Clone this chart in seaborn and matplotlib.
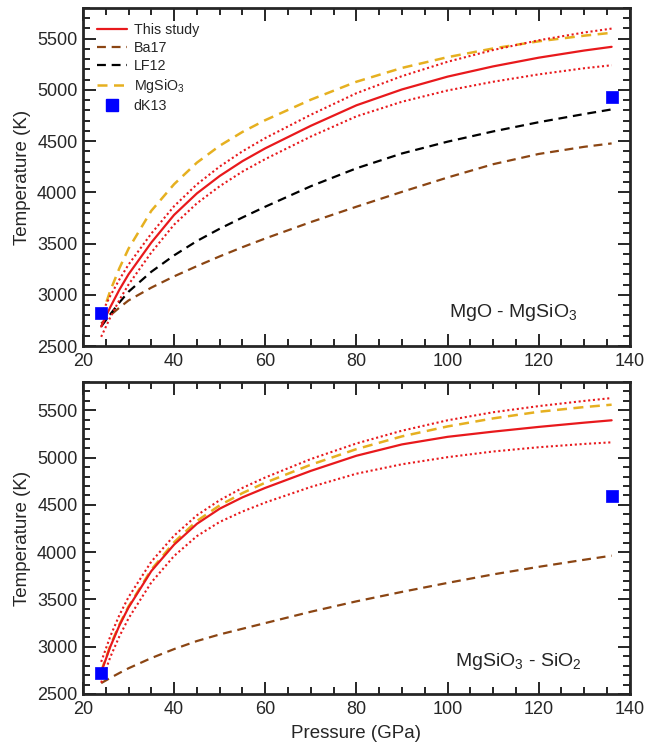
import numpy as np
import pandas as pd
import seaborn as sns
import matplotlib
matplotlib.use("Agg")
import matplotlib.pyplot as plt
from matplotlib.ticker import MultipleLocator
from matplotlib.lines import Line2D

# ---------------- data ----------------
P = [24, 26, 28, 30, 35, 40, 45, 50, 55, 60, 70, 80, 90, 100, 110, 120, 130, 136]

# Panel a: MgO - MgSiO3
a_study    = [2690, 2880, 3050, 3200, 3510, 3780, 3990, 4160, 4305, 4430, 4650, 4850, 5005, 5130, 5230, 5315, 5385, 5421]
a_study_hi = [2810, 2990, 3150, 3295, 3598, 3865, 4078, 4252, 4401, 4530, 4758, 4968, 5135, 5275, 5390, 5485, 5561, 5599]
a_study_lo = [2590, 2780, 2950, 3100, 3413, 3685, 3893, 4060, 4203, 4325, 4545, 4742, 4885, 4995, 5080, 5152, 5212, 5241]
a_ba17     = [2720, 2800, 2875, 2945, 3070, 3180, 3280, 3375, 3465, 3550, 3710, 3860, 4005, 4145, 4275, 4375, 4445, 4478]
a_lf12     = [2690, 2810, 2925, 3030, 3225, 3385, 3525, 3645, 3755, 3860, 4060, 4235, 4380, 4495, 4595, 4685, 4765, 4810]
a_mgsio3   = [2780, 3040, 3260, 3450, 3820, 4080, 4290, 4455, 4590, 4705, 4905, 5080, 5215, 5320, 5405, 5475, 5530, 5558]
a_dk13_P   = [24, 136]
a_dk13_T   = [2820, 4935]

# Panel b: MgSiO3 - SiO2
b_study    = [2730, 3000, 3225, 3415, 3800, 4080, 4300, 4460, 4580, 4680, 4860, 5020, 5140, 5220, 5275, 5325, 5370, 5395]
b_study_hi = [2840, 3110, 3335, 3525, 3900, 4175, 4390, 4550, 4680, 4790, 4985, 5150, 5285, 5395, 5480, 5545, 5600, 5630]
b_study_lo = [2620, 2890, 3110, 3300, 3680, 3960, 4170, 4320, 4430, 4525, 4690, 4830, 4930, 5005, 5065, 5110, 5145, 5162]
b_ba17     = [2615, 2670, 2722, 2772, 2880, 2975, 3060, 3130, 3190, 3250, 3370, 3480, 3580, 3675, 3765, 3845, 3920, 3963]
b_mgsio3   = [2740, 3010, 3235, 3425, 3815, 4105, 4330, 4495, 4625, 4735, 4925, 5090, 5225, 5330, 5415, 5485, 5535, 5560]
b_dk13_P   = [24, 136]
b_dk13_T   = [2720, 4595]

panel_titles = ["MgO - MgSiO$_3$", "MgSiO$_3$ - SiO$_2$"]
legend_labels = ["This study", "Ba17", "LF12", "MgSiO$_3$", "dK13"]

# ---------------- style ----------------
sns.set_style("ticks")
plt.rcParams["font.family"] = ["Liberation Sans", "DejaVu Sans"]
plt.rcParams["mathtext.fontset"] = "custom"
plt.rcParams["mathtext.rm"] = "Liberation Sans"
plt.rcParams["mathtext.it"] = "Liberation Sans:italic"

C_RED = "#E8191C"
C_BROWN = "#8B4513"
C_BLACK = "#000000"
C_GOLD = "#E6B020"
C_BLUE = "#0000FF"
DASH = (4, 2.6)
DOT = (1, 1.3)

fig = plt.figure(figsize=(6.48, 7.48), dpi=100)
ax1 = fig.add_axes([0.128, 0.5374, 0.844, 0.4519])
ax2 = fig.add_axes([0.128, 0.0722, 0.844, 0.4171])


def draw(ax, study, hi, lo, ba17, lf12, mg, dkP, dkT):
    sns.lineplot(x=P, y=ba17, ax=ax, color=C_BROWN, lw=1.6)
    ax.lines[-1].set_dashes(DASH)
    if lf12 is not None:
        sns.lineplot(x=P, y=lf12, ax=ax, color=C_BLACK, lw=1.6)
        ax.lines[-1].set_dashes(DASH)
    sns.lineplot(x=P, y=mg, ax=ax, color=C_GOLD, lw=1.8)
    ax.lines[-1].set_dashes(DASH)
    sns.lineplot(x=P, y=hi, ax=ax, color=C_RED, lw=1.5)
    ax.lines[-1].set_dashes(DOT)
    sns.lineplot(x=P, y=lo, ax=ax, color=C_RED, lw=1.5)
    ax.lines[-1].set_dashes(DOT)
    sns.lineplot(x=P, y=study, ax=ax, color=C_RED, lw=1.6)
    sns.scatterplot(x=dkP, y=dkT, ax=ax, marker="s", s=80, color=C_BLUE,
                    edgecolor=C_BLUE, linewidth=0.5, zorder=5, clip_on=False)
    ax.set_xlim(20, 140)
    ax.set_ylim(2500, 5800)
    ax.xaxis.set_major_locator(MultipleLocator(20))
    ax.xaxis.set_minor_locator(MultipleLocator(5))
    ax.yaxis.set_major_locator(MultipleLocator(500))
    ax.yaxis.set_minor_locator(MultipleLocator(100))
    ax.tick_params(which="both", direction="in", top=True, right=True,
                   labelsize=13, width=1.4)
    ax.tick_params(axis="x", pad=5)
    ax.tick_params(axis="y", pad=4)
    ax.tick_params(which="major", length=9)
    ax.tick_params(which="minor", length=5)
    for s in ax.spines.values():
        s.set_linewidth(2)
    ax.set_ylabel("Temperature (K)", fontsize=13.5, labelpad=4)
    ax.set_xlabel("")


draw(ax1, a_study, a_study_hi, a_study_lo, a_ba17, a_lf12, a_mgsio3, a_dk13_P, a_dk13_T)
draw(ax2, b_study, b_study_hi, b_study_lo, b_ba17, None, b_mgsio3, b_dk13_P, b_dk13_T)
ax2.set_xlabel("Pressure (GPa)", fontsize=13.5, labelpad=5)

ax1.text(114.5, 2830, panel_titles[0], fontsize=14, ha="center", va="center")
ax2.text(115.5, 2840, panel_titles[1], fontsize=14, ha="center", va="center")

handles = [
    Line2D([], [], color=C_RED, lw=1.6),
    Line2D([], [], color=C_BROWN, lw=1.6, dashes=DASH),
    Line2D([], [], color=C_BLACK, lw=1.6, dashes=DASH),
    Line2D([], [], color=C_GOLD, lw=1.8, dashes=DASH),
    Line2D([], [], color=C_BLUE, marker="s", ls="none", markersize=9),
]
ax1.legend(handles, legend_labels, loc="upper left", frameon=False, fontsize=10.3,
           handlelength=2.1, handletextpad=0.45, labelspacing=0.28,
           borderaxespad=0.3, bbox_to_anchor=(0.008, 0.985))

fig.savefig("out.png", dpi=100)
